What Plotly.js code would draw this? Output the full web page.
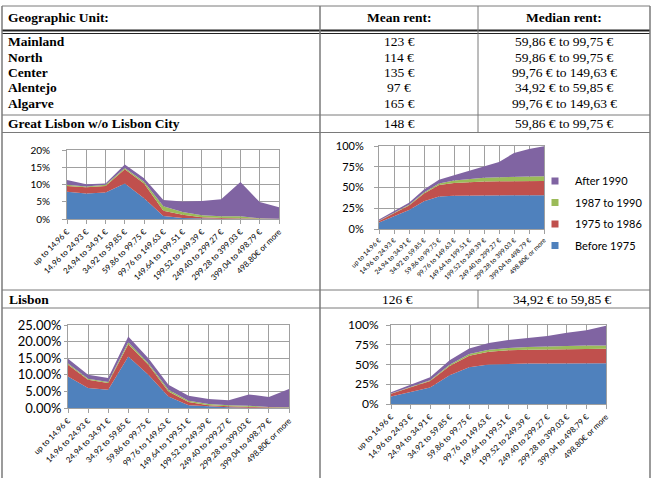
<!DOCTYPE html>
<html>
<head>
<meta charset="utf-8">
<script src="https://cdn.plot.ly/plotly-3.0.1.min.js"></script>
<style>
  html, body { margin: 0; padding: 0; background: #ffffff; }
  #chart { width: 654px; height: 478px; }
</style>
</head>
<body>
<div id="chart"></div>
<script>
// ---- Rent bands (category axis) ----
const rentBands = [
  'up to 14.96 €', '14.96 to 24.93 €', '24.94 to 34.91 €', '34.92 to 59.85 €',
  '59.86 to 99.75 €', '99.76 to 149.63 €', '149.64 to 199.51 €', '199.52 to 249.39 €',
  '249.40 to 299.27 €', '299.28 to 399.03 €', '399.04 to 498.79 €', '498.80€ or more'
];

// ---- Construction period series ----
const periodNames  = ['Before 1975', '1975 to 1986', '1987 to 1990', 'After 1990'];
const periodColors = ['#4F81BD', '#C0504D', '#9BBB59', '#8064A2'];

// Great Lisbon without Lisbon City: share of rented dwellings per rent band (%)
const glBefore1975 = [7.9, 7.4, 7.7, 10.3, 6.0, 0.9, 0.3, 0.1, 0.05, 0.05, 0.0, 0.0];
const gl1975to1986 = [1.7, 1.8, 1.9, 4.1, 4.3, 1.5, 0.9, 0.4, 0.25, 0.25, 0.1, 0.05];
const gl1987to1990 = [0.3, 0.2, 0.3, 0.4, 0.5, 1.3, 0.8, 0.6, 0.5, 0.5, 0.1, 0.05];
const glAfter1990  = [1.4, 0.7, 0.4, 1.0, 1.0, 1.8, 3.1, 4.1, 4.9, 9.9, 4.7, 3.3];

// Lisbon City: share of rented dwellings per rent band (%)
const lxBefore1975 = [9.5, 6.0, 5.5, 15.5, 10.0, 3.5, 0.8, 0.4, 0.2, 0.1, 0.05, 0.0];
const lx1975to1986 = [3.5, 2.5, 2.0, 3.7, 3.0, 1.5, 1.0, 0.4, 0.3, 0.3, 0.15, 0.1];
const lx1987to1990 = [0.4, 0.3, 0.3, 0.6, 0.5, 0.5, 0.4, 0.4, 0.3, 0.3, 0.1, 0.1];
const lxAfter1990  = [1.4, 1.2, 1.2, 1.7, 1.5, 1.5, 1.5, 1.5, 1.5, 3.4, 3.0, 5.5];

// ---- Table contents ----
const tableHeader  = ['Geographic Unit:', 'Mean rent:', 'Median rent:'];
const regionNames  = ['Mainland', 'North', 'Center', 'Alentejo', 'Algarve'];
const regionMean   = ['123 €', '114 €', '135 €', '97 €', '165 €'];
const regionMedian = ['59,86 € to 99,75 €', '59,86 € to 99,75 €', '99,76 € to 149,63 €',
                      '34,92 € to 59,85 €', '99,76 € to 149,63 €'];
const greatLisbonRow = ['Great Lisbon w/o Lisbon City', '148 €', '59,86 € to 99,75 €'];
const lisbonRow      = ['Lisbon', '126 €', '34,92 € to 59,85 €'];

// ---- Page geometry helpers (pixel -> paper fraction) ----
const W = 654, H = 478;
const px = v => v / W;
const py = v => 1 - v / H;

const GRID = '#a0a0a0';
const RULE = '#7a7a7a';
const SANS = 'Lato, Open Sans, Arial, sans-serif';
const SERIF = 'Times New Roman, Liberation Serif, serif';

const cumulative = arr => { let s = 0; return arr.map(v => (s += v)); };

const glSeries = [glBefore1975, gl1975to1986, gl1987to1990, glAfter1990];
const lxSeries = [lxBefore1975, lx1975to1986, lx1987to1990, lxAfter1990];

const traces = [];
function addStack(seriesList, n, transform) {
  seriesList.forEach((vals, i) => {
    traces.push({
      type: 'scatter', mode: 'lines',
      x: rentBands, y: transform ? transform(vals) : vals,
      xaxis: 'x' + (n === 1 ? '' : n), yaxis: 'y' + (n === 1 ? '' : n),
      stackgroup: 'g' + n,
      line: { width: 0, color: periodColors[i] },
      fillcolor: periodColors[i],
      name: periodNames[i],
      showlegend: false, hoverinfo: 'skip'
    });
  });
}
addStack(glSeries, 1, null);
addStack(glSeries, 2, cumulative);
addStack(lxSeries, 3, null);
addStack(lxSeries, 4, cumulative);

// legend entries (square swatches), newest period listed first
for (let i = periodNames.length - 1; i >= 0; i--) {
  traces.push({
    type: 'scatter', mode: 'markers', x: [null], y: [null],
    xaxis: 'x2', yaxis: 'y2', name: periodNames[i], legendgroup: periodNames[i],
    marker: { symbol: 'square', size: 7, color: periodColors[i] },
    showlegend: true, hoverinfo: 'skip'
  });
}

function axes(left, right, top, bottom, yMax, yDtick, yFormat, yFont, xFont, standoff, ticklen) {
  const xa = {
    type: 'category', domain: [px(left), px(right)], range: [0, rentBands.length - 1],
    showgrid: true, gridcolor: GRID, gridwidth: 1,
    showline: true, linecolor: GRID, mirror: true,
    ticks: 'outside', ticklen: 4, tickcolor: GRID,
    tickangle: -45, tickfont: { family: SANS, size: xFont, color: '#000' },
    automargin: false, fixedrange: true
  };
  const ya = {
    domain: [py(bottom), py(top)], range: [0, yMax], dtick: yDtick, tick0: 0,
    tickformat: yFormat, ticksuffix: '%',
    showgrid: true, gridcolor: GRID, gridwidth: 1,
    showline: true, linecolor: GRID, mirror: true, zeroline: false,
    ticks: 'outside', ticklen: ticklen, tickcolor: GRID,
    ticklabelstandoff: standoff,
    tickfont: { family: SANS, size: yFont, color: '#000' },
    automargin: false, fixedrange: true
  };
  return [xa, ya];
}

const [x1, y1] = axes(67, 279, 150, 219, 20, 5, 'd', 10, 8, 10, 4);
const [x2, y2] = axes(379, 544, 146, 229, 100, 25, 'd', 11, 6.5, 8, 4);
const [x3, y3] = axes(68, 289, 325, 408, 25, 5, '.2f', 13, 8, 0, 3);
const [x4, y4] = axes(391, 606, 325, 404, 100, 25, 'd', 12, 8, 5, 4);
x1.anchor = 'y';  y1.anchor = 'x';
x2.anchor = 'y2'; y2.anchor = 'x2';
x3.anchor = 'y3'; y3.anchor = 'x3';
x4.anchor = 'y4'; y4.anchor = 'x4';

// ---- Table rules ----
const shapes = [];
function hline(y, x0, x1, width, color) {
  shapes.push({ type: 'line', xref: 'paper', yref: 'paper', x0: px(x0), x1: px(x1),
    y0: py(y), y1: py(y), line: { color: color || RULE, width: width || 1 } });
}
function vline(x, y0, y1, width, color) {
  shapes.push({ type: 'line', xref: 'paper', yref: 'paper', x0: px(x), x1: px(x),
    y0: py(y0), y1: py(y1), line: { color: color || RULE, width: width || 1 } });
}
hline(6, 2, 650);
hline(30.5, 2, 650, 2, '#222');
hline(33.5, 2, 650, 1, '#222');
hline(115, 2, 650);
hline(132.5, 2, 650);
hline(290, 2, 650);
hline(308, 2, 650);
vline(2, 6, 478, 1.5);
vline(650, 6, 478, 1.5);
vline(320, 6, 478, 1.5);
vline(478, 6, 132.5, 1);
vline(478, 290, 308, 1);

// ---- Table text ----
const annotations = [];
function cell(text, x, y, anchor, bold) {
  annotations.push({
    xref: 'paper', yref: 'paper', x: px(x), y: py(y), xanchor: anchor, yanchor: 'middle',
    text: bold ? '<b>' + text + '</b>' : text, showarrow: false,
    font: { family: SERIF, size: 13.5, color: '#000' }
  });
}
const colName = 6, colMean = 399, colMedian = 564;
cell(tableHeader[0], colName, 17.5, 'left', true);
cell(tableHeader[1], colMean, 17.5, 'center', true);
cell(tableHeader[2], colMedian, 17.5, 'center', true);
const rowY = [42, 57.3, 72.6, 87.9, 103.2];
regionNames.forEach((name, i) => {
  cell(name, colName, rowY[i], 'left', true);
  cell(regionMean[i], colMean, rowY[i], 'center', false);
  cell(regionMedian[i], colMedian, rowY[i], 'center', false);
});
cell(greatLisbonRow[0], colName, 123.5, 'left', true);
cell(greatLisbonRow[1], colMean, 123.5, 'center', false);
cell(greatLisbonRow[2], colMedian, 123.5, 'center', false);
cell(lisbonRow[0], 7, 299.5, 'left', true);
cell(lisbonRow[1], 397, 299.5, 'center', false);
cell(lisbonRow[2], 562, 299.5, 'center', false);

const layout = {
  width: W, height: H,
  margin: { l: 0, r: 0, t: 0, b: 0 },
  paper_bgcolor: '#ffffff', plot_bgcolor: '#ffffff',
  xaxis: x1, yaxis: y1, xaxis2: x2, yaxis2: y2,
  xaxis3: x3, yaxis3: y3, xaxis4: x4, yaxis4: y4,
  showlegend: true,
  legend: {
    x: px(535), y: py(166.5), xanchor: 'left', yanchor: 'top',
    traceorder: 'grouped', tracegroupgap: 2.5,
    font: { family: SANS, size: 11, color: '#000' },
    bgcolor: 'rgba(0,0,0,0)', borderwidth: 0
  },
  shapes: shapes,
  annotations: annotations
};

Plotly.newPlot('chart', traces, layout, { staticPlot: true, displayModeBar: false });
</script>
</body>
</html>
